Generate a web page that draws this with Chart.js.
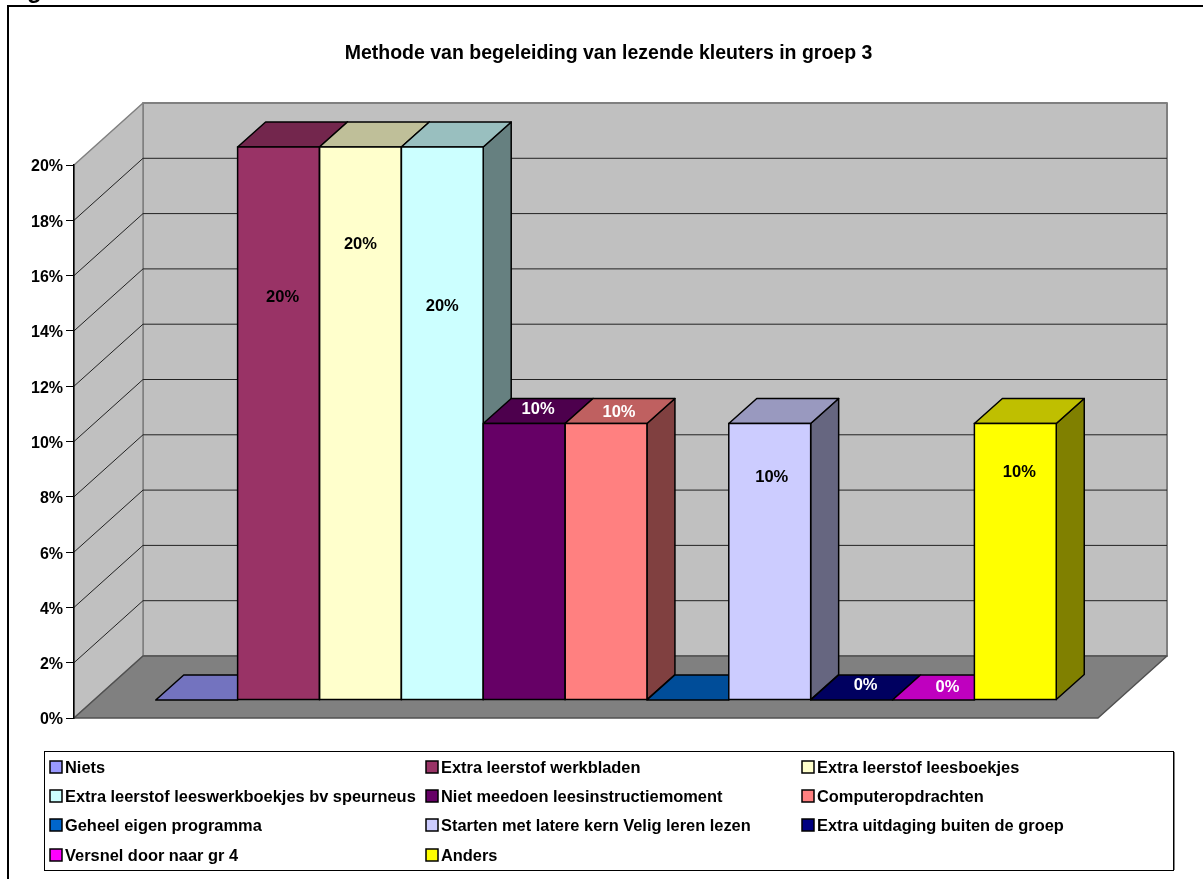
<!DOCTYPE html>
<html lang="nl">
<head>
<meta charset="UTF-8">
<title>Methode van begeleiding van lezende kleuters in groep 3</title>
<script src="https://cdn.jsdelivr.net/npm/chart.js"></script>
<style>
  html, body { margin: 0; padding: 0; background: #fff; overflow: hidden; }
  canvas { display: block; }
</style>
</head>
<body>
<canvas id="myChart" width="1203" height="879"></canvas>
<script>
const chartTitle = 'Methode van begeleiding van lezende kleuters in groep 3';
const categories = ['Groep 3'];
const seriesNames = [
  'Niets', 'Extra leerstof werkbladen', 'Extra leerstof leesboekjes',
  'Extra leerstof leeswerkboekjes bv speurneus', 'Niet meedoen leesinstructiemoment', 'Computeropdrachten',
  'Geheel eigen programma', 'Starten met latere kern Velig leren lezen', 'Extra uitdaging buiten de groep',
  'Versnel door naar gr 4', 'Anders'
];
const seriesValues = [0, 20, 20, 20, 10, 10, 0, 10, 0, 0, 10];
const seriesColors = [
  [153, 153, 255], [153, 51, 102], [255, 255, 204],
  [204, 255, 255], [102, 0, 102], [255, 128, 128],
  [0, 102, 204], [204, 204, 255], [0, 0, 128],
  [255, 0, 255], [255, 255, 0]
];

// data labels: shown or not, colour and where they were dragged to (px from bar top centre)
const labelShown = [false, true, true, true, true, true, false, true, true, true, true];
const labelColors = ['#000', '#000', '#000', '#000', '#fff', '#fff', '#000', '#000', '#fff', '#fff', '#000'];
const labelNudge = [[0, 0], [4, 150], [0, 97], [0, 159], [14, -14], [13, -11], [0, 0], [2, 54], [14, -15], [14, -13], [4, 49]];

const FONT = '"Liberation Sans", Arial, sans-serif';
const PLANE = { x: 69, y: 62 };     // depth of the walls
const BAR_SHIFT = { x: 20, y: 18 }; // front of the bars behind the axis plane
const BAR_DEPTH = { x: 28, y: 25 };

function rgb(c, f) {
  return 'rgb(' + c.map(v => Math.round(v * f)).join(',') + ')';
}

function poly(ctx, pts, fill, stroke, lw) {
  ctx.beginPath();
  pts.forEach((p, i) => i ? ctx.lineTo(p[0], p[1]) : ctx.moveTo(p[0], p[1]));
  ctx.closePath();
  if (fill) { ctx.fillStyle = fill; ctx.fill(); }
  if (stroke) { ctx.strokeStyle = stroke; ctx.lineWidth = lw; ctx.lineJoin = 'round'; ctx.stroke(); }
}

// bar rectangle on screen, taken from the bar element
function barBox(chart, i) {
  const el = chart.getDatasetMeta(i).data[0];
  const w = el.width;
  return {
    l: el.x - w / 2 + BAR_SHIFT.x,
    r: el.x + w / 2 + BAR_SHIFT.x,
    t: el.y - BAR_SHIFT.y,
    b: el.base - BAR_SHIFT.y
  };
}

const plot3d = {
  id: 'plot3d',
  afterLayout(chart) {
    // the frame runs off the page on the right, title is centred on that frame
    chart.titleBlock.left = 14;
    chart.titleBlock.right = 1203;
  },
  beforeDraw(chart) {
    const { ctx, chartArea: a, scales } = chart;
    const y = scales.y;
    const top = y.getPixelForValue(y.max);
    const bot = y.getPixelForValue(y.min);
    ctx.save();
    // frame
    ctx.strokeStyle = '#000';
    ctx.lineWidth = 2;
    ctx.strokeRect(8, 6, 1300, 1000);
    // stray caption above the frame, only its descender is on the page
    ctx.fillStyle = '#000';
    ctx.font = 'bold 24px ' + FONT;
    ctx.textAlign = 'left';
    ctx.textBaseline = 'alphabetic';
    ctx.fillText('g', 27, -2);
    // walls and floor
    poly(ctx, [[a.left + PLANE.x, top - PLANE.y], [a.right + PLANE.x, top - PLANE.y], [a.right + PLANE.x, bot - PLANE.y], [a.left + PLANE.x, bot - PLANE.y]], '#c0c0c0', '#808080', 2);
    poly(ctx, [[a.left, top], [a.left + PLANE.x, top - PLANE.y], [a.left + PLANE.x, bot - PLANE.y], [a.left, bot]], '#c0c0c0', '#808080', 1.5);
    // gridlines
    ctx.strokeStyle = '#222';
    ctx.lineWidth = 1;
    y.ticks.forEach(t => {
      if (t.value === y.min || t.value === y.max) return;
      const py = y.getPixelForValue(t.value);
      ctx.beginPath();
      ctx.moveTo(a.left, py);
      ctx.lineTo(a.left + PLANE.x, py - PLANE.y);
      ctx.lineTo(a.right + PLANE.x, py - PLANE.y);
      ctx.stroke();
    });
    poly(ctx, [[a.left, bot], [a.left + PLANE.x, bot - PLANE.y], [a.right + PLANE.x, bot - PLANE.y], [a.right, bot]], '#808080', '#505050', 1.5);
    ctx.restore();
  },
  beforeDatasetsDraw(chart) {
    const { ctx } = chart;
    ctx.save();
    seriesValues.forEach((v, i) => {
      const b = barBox(chart, i);
      const c = seriesColors[i];
      const dx = BAR_DEPTH.x, dy = BAR_DEPTH.y;
      if (v > 0) poly(ctx, [[b.r, b.t], [b.r + dx, b.t - dy], [b.r + dx, b.b - dy], [b.r, b.b]], rgb(c, 0.5), '#000', 1.5);
      poly(ctx, [[b.l, b.t], [b.r, b.t], [b.r + dx, b.t - dy], [b.l + dx, b.t - dy]], rgb(c, 0.75), '#000', 1.5);
    });
    ctx.restore();
  },
  beforeDatasetDraw(chart) {
    chart.ctx.save();
    chart.ctx.translate(BAR_SHIFT.x, -BAR_SHIFT.y);
  },
  afterDatasetDraw(chart) {
    chart.ctx.restore();
  },
  afterDatasetsDraw(chart) {
    const { ctx } = chart;
    ctx.save();
    seriesValues.forEach((v, i) => {
      const b = barBox(chart, i);
      if (v > 0) {
        ctx.strokeStyle = '#000';
        ctx.lineWidth = 1.5;
        ctx.strokeRect(b.l, b.t, b.r - b.l, b.b - b.t);
      }
    });
    ctx.font = 'bold 16.5px ' + FONT;
    ctx.textAlign = 'center';
    ctx.textBaseline = 'middle';
    seriesValues.forEach((v, i) => {
      if (!labelShown[i]) return;
      const b = barBox(chart, i);
      ctx.fillStyle = labelColors[i];
      ctx.fillText(v + '%', (b.l + b.r) / 2 + labelNudge[i][0], b.t + labelNudge[i][1]);
    });
    ctx.restore();
  },
  afterDraw(chart) {
    const { ctx } = chart;
    ctx.save();
    // legend box, three columns
    ctx.fillStyle = '#fff';
    ctx.fillRect(44, 751, 1129, 119);
    ctx.strokeStyle = '#000';
    ctx.lineWidth = 1;
    ctx.strokeRect(44.5, 751.5, 1129, 119);
    ctx.strokeStyle = '#808080';
    ctx.beginPath();
    ctx.moveTo(1174.5, 752);
    ctx.lineTo(1174.5, 870);
    ctx.stroke();
    ctx.font = 'bold 16.4px ' + FONT;
    ctx.textAlign = 'left';
    ctx.textBaseline = 'middle';
    const colX = [50, 426, 802];
    const rowY = [767, 796, 825, 855];
    chart.data.datasets.forEach((ds, i) => {
      const x = colX[i % 3];
      const y = rowY[Math.floor(i / 3)];
      ctx.fillStyle = ds.backgroundColor;
      ctx.fillRect(x, y - 6, 12, 12);
      ctx.strokeStyle = '#000';
      ctx.lineWidth = 1.5;
      ctx.strokeRect(x, y - 6, 12, 12);
      ctx.fillStyle = '#000';
      ctx.fillText(ds.label, x + 15, y + 1.5);
    });
    ctx.restore();
  }
};

new Chart(document.getElementById('myChart').getContext('2d'), {
  type: 'bar',
  data: {
    labels: categories,
    datasets: seriesNames.map((name, i) => ({
      label: name,
      data: [seriesValues[i]],
      backgroundColor: rgb(seriesColors[i], 1),
      borderWidth: 0,
      clip: false,
      categoryPercentage: 0.8794,
      barPercentage: 1
    }))
  },
  plugins: [plot3d],
  options: {
    responsive: false,
    animation: false,
    layout: { padding: { left: 0, top: 0, right: 105, bottom: 161 } },
    plugins: {
      legend: { display: false },
      tooltip: { enabled: false },
      title: {
        display: true,
        text: chartTitle,
        color: '#000',
        font: { family: FONT, size: 19.5, weight: 'bold', lineHeight: 1 },
        padding: { top: 44, bottom: 101.5 }
      }
    },
    scales: {
      x: { display: false },
      y: {
        min: 0,
        max: 20,
        afterFit(scale) { scale.width = 74; },
        afterUpdate(scale) {
          // tick labels sit a little under their tick in the reference
          const compute = scale._computeLabelItems;
          scale._computeLabelItems = area => compute.call(scale, area).map(item => {
            item.options.translation[1] += 2;
            return item;
          });
        },
        ticks: {
          stepSize: 2,
          color: '#000',
          padding: 3,
          font: { family: FONT, size: 16, weight: 'bold' },
          callback: v => v + '%'
        },
        grid: { drawOnChartArea: false, color: '#000', tickLength: 8 },
        border: { color: '#000', width: 1.5 }
      }
    }
  }
});
</script>
</body>
</html>
